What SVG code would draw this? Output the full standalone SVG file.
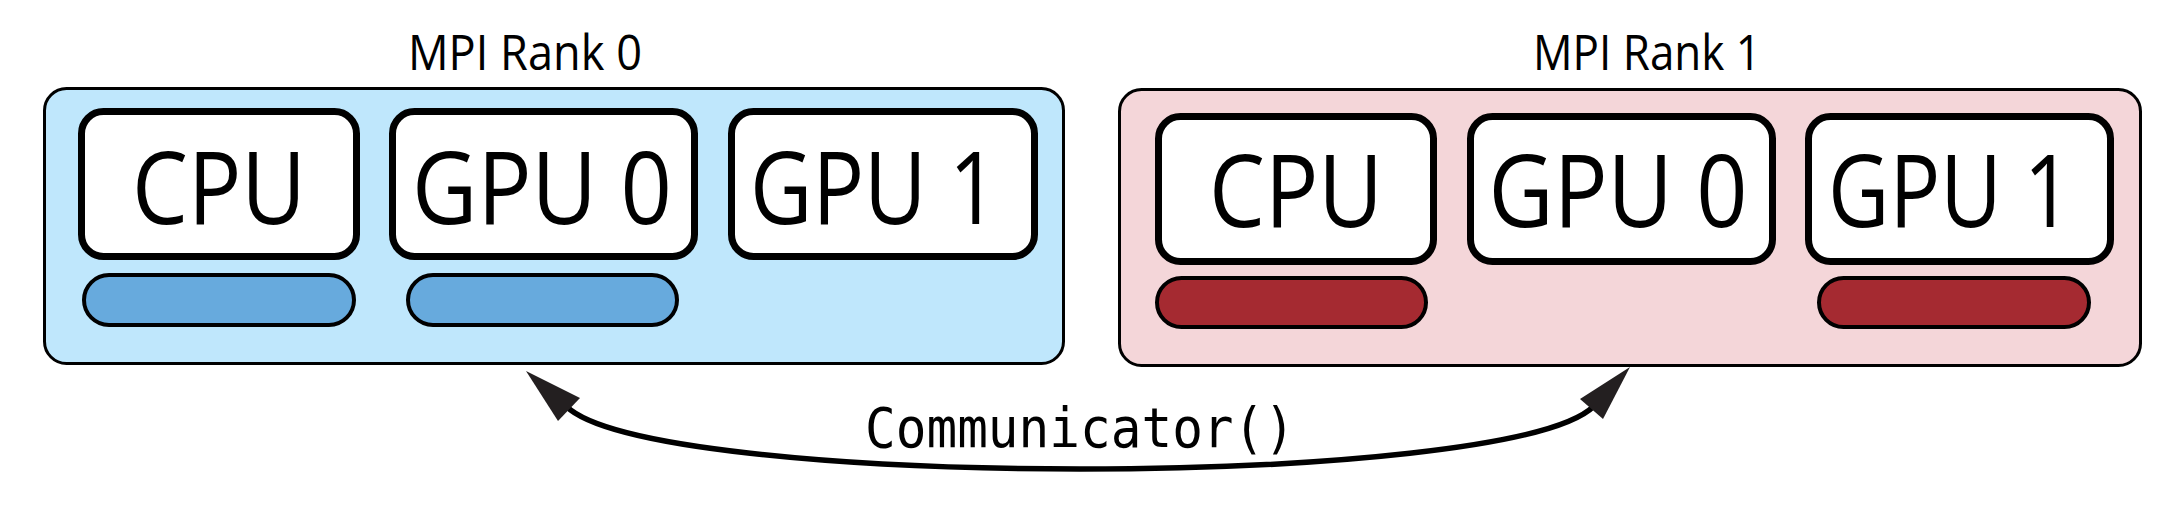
<svg xmlns="http://www.w3.org/2000/svg" width="2172" height="525" viewBox="0 0 2172 525">
<style>
.rank{stroke:#000;stroke-width:3}
.r0{fill:#bfe7fc}
.r1{fill:#f4d6d9}
.dev{fill:#fff;stroke:#000;stroke-width:7}
.pill{stroke:#000;stroke-width:4}
.p0{fill:#67aadd}
.p1{fill:#a52a31}
.lbl{font-family:"Open Sans","Noto Sans",sans-serif;font-size:100px;fill:#000;text-anchor:middle}
.title{font-family:"Open Sans","Noto Sans",sans-serif;font-size:49px;fill:#000;text-anchor:middle}
.mono{font-family:"DejaVu Sans Mono","Liberation Mono",monospace;font-size:56px;fill:#000;text-anchor:middle}
.conn{fill:none;stroke:#000;stroke-width:5.5}
.head{fill:#231f20}
</style>
<g id="rank0">
<rect class="rank r0" x="44.5" y="88.5" width="1019" height="275" rx="22"/>
<text class="title" x="525" y="70" textLength="234" lengthAdjust="spacingAndGlyphs">MPI Rank 0</text>
</g>
<g id="rank1">
<rect class="rank r1" x="1119.5" y="89.5" width="1021" height="276" rx="22"/>
<text class="title" x="1647" y="70" textLength="228" lengthAdjust="spacingAndGlyphs">MPI Rank 1</text>
</g>
<g id="r0-cpu">
<rect class="dev" x="81.5" y="111.5" width="275" height="145" rx="22"/>
<text class="lbl" x="219" y="224" textLength="174" lengthAdjust="spacingAndGlyphs">CPU</text>
</g>
<g id="r0-gpu0">
<rect class="dev" x="392.5" y="111.5" width="302" height="145" rx="22"/>
<text class="lbl" x="542" y="224" textLength="260" lengthAdjust="spacingAndGlyphs">GPU 0</text>
</g>
<g id="r0-gpu1">
<rect class="dev" x="731.5" y="111.5" width="303" height="145" rx="22"/>
<text class="lbl" x="874" y="224" textLength="248" lengthAdjust="spacingAndGlyphs">GPU 1</text>
</g>
<g id="r0-pill-cpu"><rect class="pill p0" x="84" y="275" width="270" height="50" rx="25"/></g>
<g id="r0-pill-gpu0"><rect class="pill p0" x="408" y="275" width="269" height="50" rx="25"/></g>
<g id="r1-cpu">
<rect class="dev" x="1158.5" y="116.5" width="275" height="145" rx="22"/>
<text class="lbl" x="1296" y="227" textLength="174" lengthAdjust="spacingAndGlyphs">CPU</text>
</g>
<g id="r1-gpu0">
<rect class="dev" x="1470.5" y="116.5" width="302" height="145" rx="22"/>
<text class="lbl" x="1618" y="227" textLength="259" lengthAdjust="spacingAndGlyphs">GPU 0</text>
</g>
<g id="r1-gpu1">
<rect class="dev" x="1808.5" y="116.5" width="302" height="145" rx="22"/>
<text class="lbl" x="1950" y="227" textLength="244" lengthAdjust="spacingAndGlyphs">GPU 1</text>
</g>
<g id="r1-pill-cpu"><rect class="pill p1" x="1157" y="278" width="269" height="49" rx="24.5"/></g>
<g id="r1-pill-gpu1"><rect class="pill p1" x="1819" y="278" width="270" height="49" rx="24.5"/></g>
<g id="connectors">
<path class="conn" d="M 566 406 C 650 490, 1510 490, 1594 406"/>
<polygon class="head" points="526,371 580,398 558,421"/>
<polygon class="head" points="1630,367 1580,399 1603,419"/>
<text class="mono" x="1080" y="447" textLength="430" lengthAdjust="spacingAndGlyphs">Communicator()</text>
</g>
</svg>
